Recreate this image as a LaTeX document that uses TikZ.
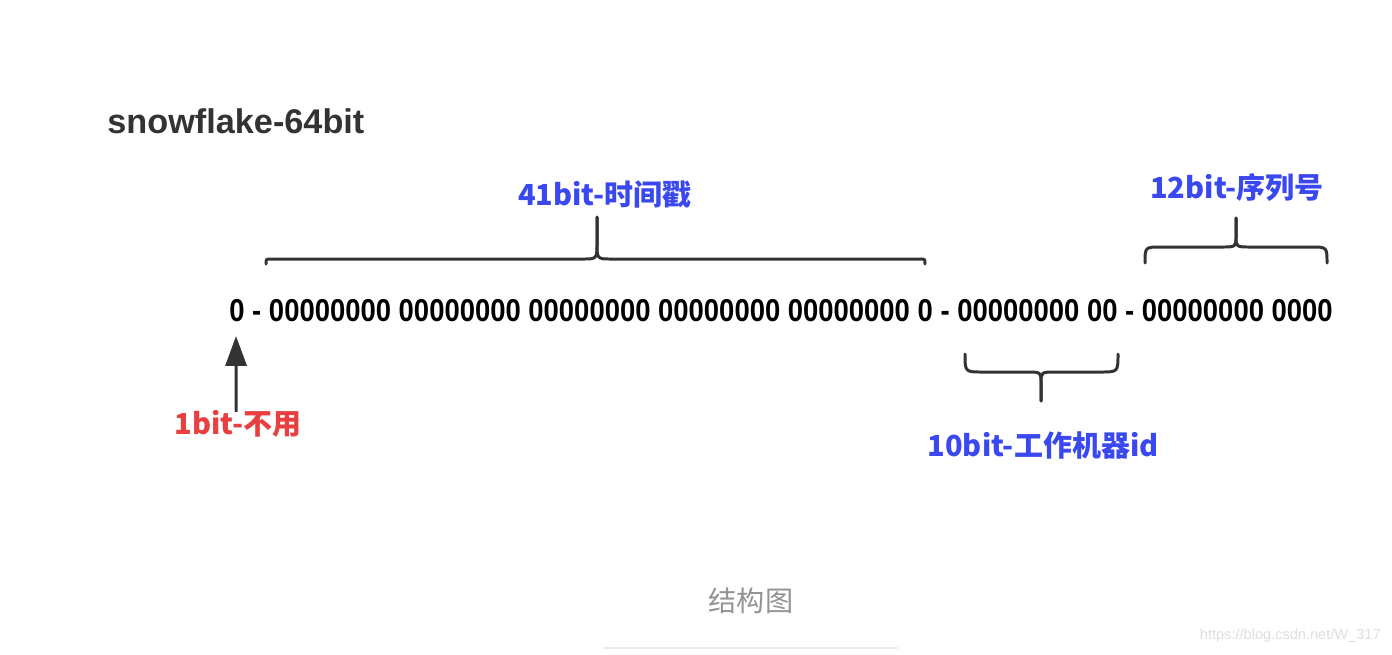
\documentclass[tikz,border=0pt]{standalone}
\usepackage{fontspec}
\usepackage{graphicx}
\setmainfont{Liberation Sans}
\newfontfamily\cjk{Noto Sans CJK SC}
\usetikzlibrary{arrows.meta}

\definecolor{labelblue}{RGB}{58,72,240}
\definecolor{labelred}{RGB}{232,64,64}
\definecolor{inkgray}{RGB}{51,51,51}

% brace made of two halves: x-left, x-right, x-tip, y-ends, y-line, y-tip
\newcommand{\bitbrace}[6]{%
    \draw[bracestyle] (#1,#4) .. controls (#1,#5) .. ({#1+abs(#4-#5)},#5)
        -- ({#3-15},#5) .. controls (#3,#5) .. (#3,{#5+0.38*(#6-#5)}) -- (#3,#6);
    \draw[bracestyle] (#2,#4) .. controls (#2,#5) .. ({#2-abs(#4-#5)},#5)
        -- ({#3+15},#5) .. controls (#3,#5) .. (#3,{#5+0.38*(#6-#5)}) -- (#3,#6);}

\tikzset{
    bracestyle/.style={line width=1.7pt, inkgray, line cap=round},
    fieldlabel/.style={font=\cjk\bfseries\fontsize{16.5}{18}\selectfont, inner sep=1pt},
}

\begin{document}
\begin{tikzpicture}[x=0.02cm, y=-0.02cm, >=Stealth]

    % ── Canvas ───────────────────────────────────────────────────────────────
    \fill[white] (0,0) rectangle (1392,654);
    \useasboundingbox (0,0) rectangle (1392,654);

    % ── Title ────────────────────────────────────────────────────────────────
    \node[anchor=base west, inner sep=0, inkgray,
          font=\bfseries\fontsize{19.5}{22}\selectfont] (title) at (107,133)
        {snowflake-64bit};

    % ── The 64 bits ──────────────────────────────────────────────────────────
    \node[anchor=west, inner sep=0, font=\bfseries\fontsize{18}{20}\selectfont] (bits) at (229,311)
        {\scalebox{0.868}[1]{0 - 00000000 00000000 00000000 00000000 00000000 0 - 00000000 00 - 00000000 0000}};

    % ── Braces ───────────────────────────────────────────────────────────────
    \bitbrace{266}{925}{597}{264}{259}{217}   % timestamp, above
    \bitbrace{1145}{1327}{1236}{263}{247}{218} % sequence, above
    \bitbrace{965}{1118}{1041}{354}{372}{401}  % worker id, below

    % ── Field labels ─────────────────────────────────────────────────────────
    \node[fieldlabel, labelblue] (stamp)  at (605,194)  {41bit-时间戳};
    \node[fieldlabel, labelblue] (serial) at (1237,187) {12bit-序列号};
    \node[fieldlabel, labelblue] (worker) at (1043,445) {10bit-工作机器id};
    \node[fieldlabel, labelred]  (unused) at (238,424)  {1bit-不用};

    % ── Sign bit arrow ───────────────────────────────────────────────────────
    \coordinate (signbit) at (236,336);
    \draw[-{Triangle[length=17pt, width=12pt]}, line width=1.7pt, inkgray]
        ([xshift=-1pt, yshift=-2pt]unused.north) -- (signbit);

    % ── Caption ──────────────────────────────────────────────────────────────
    \node[font=\cjk\fontsize{16}{18}\selectfont, gray!85] (caption) at (751,601) {结构图};
    \draw[gray!15, line width=1pt] (603,648) -- (898,648);

    % watermark
    \node[anchor=east, inner sep=0, gray!25, font=\fontsize{8.3}{10}\selectfont] (mark) at (1381,636)
        {https://blog.csdn.net/W\_317};

\end{tikzpicture}
\end{document}
